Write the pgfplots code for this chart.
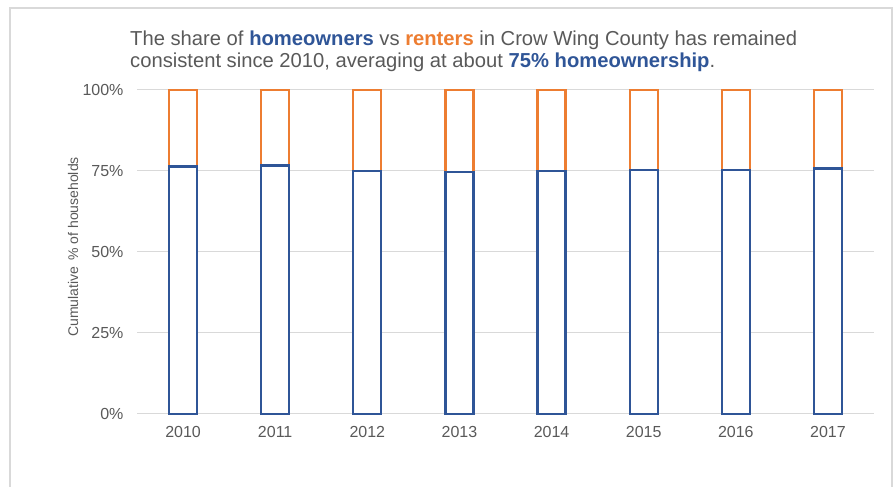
\documentclass[border=0pt]{standalone}
\usepackage{fontspec}
\setmainfont{Liberation Sans}
\usepackage{pgfplots}
\pgfplotsset{compat=1.18}
\definecolor{ownblue}{HTML}{2F5597}
\definecolor{rentorange}{HTML}{ED7D31}
\definecolor{txtgray}{HTML}{595959}
\definecolor{gridgray}{HTML}{D9D9D9}
\begin{document}
\begin{tikzpicture}[x=1pt,y=1pt]
\useasboundingbox (0pt,0pt) rectangle (894pt,487pt);
\draw[gridgray, line width=2pt] (10pt,-10pt) rectangle (892pt,479pt);
\node[anchor=base west, text=txtgray, font=\fontsize{20.2}{24}\selectfont, inner sep=0pt] at (130pt,441pt)
  {The share of \textbf{\color{ownblue}homeowners} vs \textbf{\color{rentorange}renters} in Crow Wing County has remained};
\node[anchor=base west, text=txtgray, font=\fontsize{20.2}{24}\selectfont, inner sep=0pt] at (130pt,419.5pt)
  {consistent since 2010, averaging at about \textbf{\color{ownblue}75\% homeownership}.};
\node[rotate=90, text=txtgray, font=\fontsize{14}{16}\selectfont] at (73pt,240pt) {Cumulative \,\% of households};
\begin{axis}[
  at={(137pt,73pt)}, anchor=south west,
  scale only axis, width=737pt, height=324pt,
  xmin=-0.5, xmax=7.5, ymin=0, ymax=100,
  ybar stacked, bar width=28pt,
  axis line style={draw=none},
  major tick length=0pt,
  ymajorgrids, grid style={gridgray, line width=1pt},
  ytick={0,25,50,75,100},
  yticklabels={0\%,25\%,50\%,75\%,100\%},
  xtick={0,1,2,3,4,5,6,7},
  xticklabels={2010,2011,2012,2013,2014,2015,2016,2017},
  tick label style={text=txtgray, font=\fontsize{16}{18}\selectfont},
  yticklabel style={xshift=-10pt},
  xticklabel style={yshift=-9pt},
  clip=false,
]
\addplot[draw=ownblue, fill=white, line width=2.2pt] coordinates {
(0,76.4) (1,76.7) (2,75.1) (3,74.6) (4,75.0) (5,75.4) (6,75.3) (7,75.8)};
\addplot[draw=rentorange, fill=white, line width=2.2pt] coordinates {
(0,23.6) (1,23.3) (2,24.9) (3,25.4) (4,25.0) (5,24.6) (6,24.7) (7,24.2)};
\end{axis}
\end{tikzpicture}
\end{document}
